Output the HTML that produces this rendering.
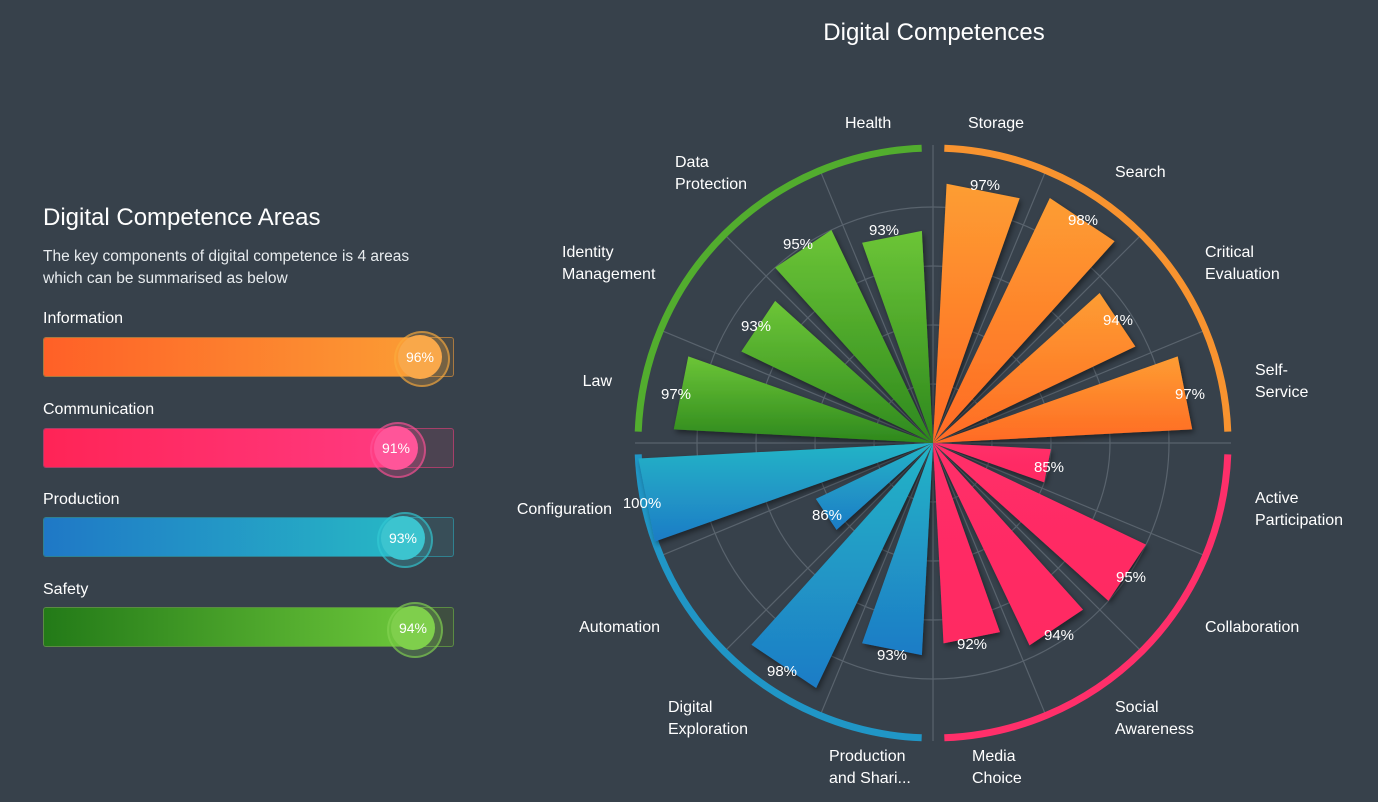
<!DOCTYPE html>
<html><head><meta charset="utf-8"><style>
html,body{margin:0;padding:0;background:#37414b;width:1378px;height:802px;overflow:hidden;font-family:"Liberation Sans",sans-serif;color:#fff}
.t{position:absolute;white-space:nowrap}
.bar{position:absolute;left:43px;width:409px;height:38px;border-radius:3px;border:1px solid}
.fill{position:absolute;left:0;top:0;bottom:0;border-radius:2px}
.knob{position:absolute;width:44px;height:44px;border-radius:50%;margin:-22px 0 0 -22px;font-size:14px;line-height:44px;text-align:center}
.halo{position:absolute;width:52px;height:52px;border-radius:50%;margin:-26px 0 0 -26px;border:2px solid}
</style></head><body>
<div class="t" style="left:43px;top:204px;font-size:24px;font-weight:300">Digital Competence Areas</div>
<div class="t" style="left:43px;top:246px;font-size:15.5px;line-height:22px;color:#e8ecef">The key components of digital competence is 4 areas<br>which can be summarised as below</div>

<div class="t" style="left:43px;top:310px;font-size:16px">Information</div>
<div class="bar" style="top:337px;border-color:rgba(247,160,60,.55);background:#4a4a46">
 <div class="fill" style="width:376px;background:linear-gradient(90deg,#ff6027,#fb9c34)"></div></div>
<div class="halo" style="left:420px;top:357px;border-color:rgba(250,170,60,.6);background:rgba(250,170,60,.25)"></div>
<div class="knob" style="left:420px;top:357px;background:#f9a84a">96%</div>

<div class="t" style="left:43px;top:401px;font-size:16px">Communication</div>
<div class="bar" style="top:428px;border-color:rgba(255,60,130,.5);background:#4c4351">
 <div class="fill" style="width:353px;background:linear-gradient(90deg,#ff2456,#ff3a80)"></div></div>
<div class="halo" style="left:396px;top:448px;border-color:rgba(255,80,150,.6);background:rgba(255,80,150,.25)"></div>
<div class="knob" style="left:396px;top:448px;background:#ff5599">91%</div>

<div class="t" style="left:43px;top:491px;font-size:16px">Production</div>
<div class="bar" style="top:517px;border-color:rgba(40,180,200,.5);background:#384e58">
 <div class="fill" style="width:360px;background:linear-gradient(90deg,#1f78c6,#27b7c5)"></div></div>
<div class="halo" style="left:403px;top:538px;border-color:rgba(50,200,210,.6);background:rgba(50,200,210,.25)"></div>
<div class="knob" style="left:403px;top:538px;background:#3cc4cf">93%</div>

<div class="t" style="left:43px;top:581px;font-size:16px">Safety</div>
<div class="bar" style="top:607px;border-color:rgba(120,200,70,.5);background:#3f4f40">
 <div class="fill" style="width:370px;background:linear-gradient(90deg,#237a18,#6cc63a)"></div></div>
<div class="halo" style="left:413px;top:628px;border-color:rgba(130,210,80,.6);background:rgba(130,210,80,.25)"></div>
<div class="knob" style="left:413px;top:628px;background:#7fcf4c">94%</div>

<svg id="s" width="1378" height="802" style="position:absolute;left:0;top:0" font-family="Liberation Sans, sans-serif">
<defs>
<filter id="sh" x="-20%" y="-20%" width="140%" height="140%"><feDropShadow dx="2" dy="3" stdDeviation="3" flood-color="#000" flood-opacity="0.45"/></filter>
<linearGradient id="gO" x1="0" y1="0" x2="0" y2="1"><stop offset="0" stop-color="#fd9d32"/><stop offset="1" stop-color="#ff6a24"/></linearGradient>
<linearGradient id="gP" x1="0" y1="0" x2="0" y2="1"><stop offset="0" stop-color="#ff2e68"/><stop offset="1" stop-color="#ff2a62"/></linearGradient>
<linearGradient id="gB" x1="0" y1="0" x2="0" y2="1"><stop offset="0" stop-color="#23b4c6"/><stop offset="1" stop-color="#1e7cc6"/></linearGradient>
<linearGradient id="gG" x1="0" y1="0" x2="0" y2="1"><stop offset="0" stop-color="#6cc537"/><stop offset="1" stop-color="#2d881d"/></linearGradient>
</defs>
<g id="grid"></g><g id="ring"></g><g id="bars" filter="url(#sh)"></g>
<g fill="#fff" font-size="15" text-anchor="middle">
<text x="985" y="190">97%</text><text x="1083" y="225">98%</text><text x="1118" y="325">94%</text><text x="1190" y="399">97%</text>
<text x="1049" y="472">85%</text><text x="1131" y="582">95%</text><text x="1059" y="640">94%</text><text x="972" y="649">92%</text>
<text x="892" y="660">93%</text><text x="782" y="676">98%</text><text x="827" y="520">86%</text><text x="642" y="508">100%</text>
<text x="676" y="399">97%</text><text x="756" y="331">93%</text><text x="798" y="249">95%</text><text x="884" y="235">93%</text>
</g>
<g fill="#fff" font-size="16">
<text x="934" y="40" font-size="24" text-anchor="middle">Digital Competences</text>
<text x="845" y="128">Health</text>
<text x="968" y="128">Storage</text>
<text x="1115" y="177">Search</text>
<text x="1205" y="257">Critical</text><text x="1205" y="279">Evaluation</text>
<text x="1255" y="375">Self-</text><text x="1255" y="397">Service</text>
<text x="1255" y="503">Active</text><text x="1255" y="525">Participation</text>
<text x="1205" y="632">Collaboration</text>
<text x="1115" y="712">Social</text><text x="1115" y="734">Awareness</text>
<text x="972" y="761">Media</text><text x="972" y="783">Choice</text>
<text x="829" y="761">Production</text><text x="829" y="783">and Shari...</text>
<text x="668" y="712">Digital</text><text x="668" y="734">Exploration</text>
<text x="660" y="632" text-anchor="end">Automation</text>
<text x="612" y="514" text-anchor="end">Configuration</text>
<text x="612" y="386" text-anchor="end">Law</text>
<text x="562" y="257">Identity</text><text x="562" y="279">Management</text>
<text x="675" y="167">Data</text><text x="675" y="189">Protection</text>
</g>
</svg>
<script>
(function(){
var cx=933,cy=443,NS="http://www.w3.org/2000/svg";
function P(a,r){var t=a*Math.PI/180;return [cx+r*Math.sin(t),cy-r*Math.cos(t)];}
function el(p,tag,at){var e=document.createElementNS(NS,tag);for(var k in at)e.setAttribute(k,at[k]);p.appendChild(e);return e;}
var g=document.getElementById('grid');
[59,118,177,236].forEach(function(r){el(g,'circle',{cx:cx,cy:cy,r:r,fill:'none',stroke:'#59636d','stroke-width':1.2});});
for(var i=0;i<16;i++){var q=P(i*22.5,298);el(g,'line',{x1:cx,y1:cy,x2:q[0],y2:q[1],stroke:'#59636d','stroke-width':1.2});}
var rg=document.getElementById('ring');
var rc=['#f8932f','#ff2f6a','#2096c6','#52ad2e'];
for(var k=0;k<4;k++){var a0=k*90+2.2,a1=k*90+87.8,r=295;var p0=P(a0,r),p1=P(a1,r);
el(rg,'path',{d:'M'+p0[0]+' '+p0[1]+' A'+r+' '+r+' 0 0 1 '+p1[0]+' '+p1[1],fill:'none',stroke:rc[k],'stroke-width':7});}
var v=[97,98,94,97,85,95,94,92,93,98,86,100,97,93,95,93];
var gs=['gO','gP','gB','gG'];
var b=document.getElementById('bars');
for(var i=0;i<16;i++){var r=(v[i]-75)*11.8;var a0=i*22.5+3,a1=i*22.5+19.5;var p0=P(a0,r),p1=P(a1,r);
el(b,'path',{d:'M'+cx+' '+cy+' L'+p0[0]+' '+p0[1]+' L'+p1[0]+' '+p1[1]+' Z',fill:'url(#'+gs[Math.floor(i/4)]+')'});}
})();
</script>
</body></html>
